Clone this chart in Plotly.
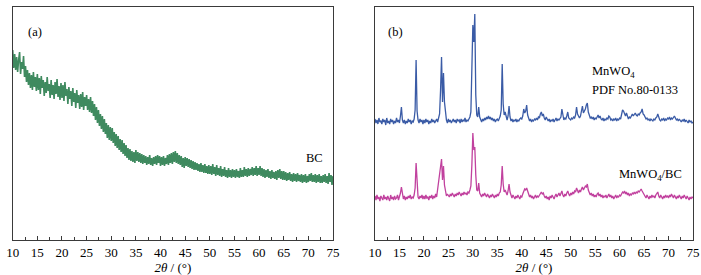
import numpy as np
import plotly.graph_objects as go

# 2theta sampling grid (degrees), 0.2 deg step from 10 to 75
two_theta = [round(10 + 0.2 * i, 1) for i in range(326)]

# Panel (a): BC, intensity (a.u.)
bc = [
    190,172,186,170,183,168,180,188,166,178,171,184,163,174,158,170,155,167,152,165,150,168,153,163,149,
    166,150,162,146,164,152,160,144,158,147,163,149,156,142,160,145,155,141,158,146,161,143,154,140,157,
    142,155,139,158,144,151,136,153,141,149,134,152,138,147,132,150,137,145,131,146,133,148,130,143,134,
    145,130,141,128,143,127,139,124,136,120,133,117,130,114,126,111,124,108,121,106,117,102,115,100,113,
    99,112,97,108,94,106,92,104,90,101,88,100,86,97,84,95,82,92,80,91,79,89,78,88,77,
    90,79,88,78,87,77,86,76,85,77,84,75,83,76,85,75,82,74,83,76,84,75,85,77,84,
    74,83,75,84,74,82,76,85,75,86,77,87,76,88,78,89,77,87,76,85,75,84,73,82,72,
    83,74,82,73,81,72,80,71,79,70,78,70,77,69,76,68,77,68,75,67,76,67,74,66,75,
    66,74,65,76,66,73,64,75,65,72,64,74,63,71,64,73,63,70,62,72,63,70,62,71,63,
    70,62,71,63,69,62,72,63,70,63,73,64,71,63,72,64,71,65,73,64,72,65,74,64,72,
    65,74,64,72,63,71,62,70,63,71,62,69,61,70,62,68,61,69,60,70,62,71,61,69,60,
    69,60,68,59,67,60,68,59,66,58,67,59,66,58,67,59,65,58,66,57,65,58,66,57,64,
    58,66,59,67,58,65,58,66,57,65,58,66,57,64,57,65,58,66,57,64,56,67,58,65,55,
    64,
]

# Panel (b): MnWO4 reference (PDF No.80-0133), intensity (a.u.)
mnwo4 = [
    121,117,120,116,122,118,119,116,121,118,120,115,122,117,119,116,121,118,120,116,119,117,122,118,120,
    117,124,133,120,117,120,116,119,117,121,118,120,116,119,118,121,130,180,129,120,117,121,118,120,116,
    120,117,121,118,120,116,119,117,121,118,120,117,119,121,118,121,126,150,183,138,167,138,124,120,117,
    121,118,120,117,119,121,118,120,117,121,119,120,117,121,118,120,119,122,118,120,119,121,123,128,165,
    215,198,226,145,125,123,133,123,120,118,121,119,122,120,123,121,124,121,123,120,122,119,121,118,120,
    121,119,122,124,130,176,136,125,128,122,120,124,134,123,119,121,118,120,119,121,118,120,119,121,122,
    121,124,131,127,129,135,125,121,119,121,118,120,119,121,120,122,120,123,122,126,128,124,126,122,120,
    123,121,119,121,118,120,119,121,118,120,122,119,121,120,122,123,131,123,120,122,121,124,128,122,121,
    120,122,121,123,122,125,133,126,123,122,124,128,134,127,129,131,135,137,128,124,122,123,121,123,120,
    122,121,123,125,122,124,121,120,122,119,121,120,122,121,124,123,120,121,119,121,120,122,119,121,120,
    122,121,125,130,129,125,124,127,123,121,123,122,124,126,124,126,127,125,124,126,125,127,128,131,126,
    125,123,121,122,120,121,119,121,120,119,121,120,122,123,126,122,120,119,121,120,122,119,121,120,122,
    121,123,120,122,121,123,124,122,120,121,119,121,120,118,120,119,121,118,120,119,117,120,118,119,117,
    118,
]

# Panel (b): MnWO4/BC composite, intensity (a.u.)
mnwo4_bc = [
    44,40,45,41,43,39,44,42,40,45,41,43,40,44,42,39,45,41,43,40,44,41,42,45,40,
    43,47,53,44,41,44,40,43,41,44,42,45,41,43,42,45,52,77,50,43,41,44,42,45,41,
    44,41,45,42,43,40,44,42,45,41,44,42,46,43,50,60,62,70,81,60,74,55,47,44,46,
    45,43,46,44,47,45,43,46,44,47,45,48,46,44,47,45,48,46,47,45,48,47,50,54,75,
    107,90,93,65,50,49,57,47,45,43,46,44,47,45,43,46,44,42,45,43,46,44,42,45,43,
    46,44,47,48,55,74,56,48,50,46,45,49,56,48,44,42,45,43,41,44,42,45,43,41,44,
    43,46,49,51,50,52,49,46,43,45,42,44,41,43,45,42,44,43,45,46,48,46,47,44,42,
    44,41,43,40,44,42,45,43,41,44,46,43,45,47,44,46,49,45,43,46,44,47,49,46,44,
    47,45,48,46,49,48,52,49,47,50,48,51,53,50,52,54,53,56,50,47,45,47,44,46,43,
    45,43,46,47,44,46,43,45,42,44,43,45,42,44,46,43,45,42,44,41,43,45,42,44,43,
    45,44,46,48,47,49,46,48,45,47,44,46,45,47,46,48,46,48,47,49,48,50,51,49,47,
    46,44,42,45,43,41,44,42,45,43,44,42,45,46,48,44,42,45,43,41,44,42,45,43,44,
    42,45,43,46,44,42,45,43,41,44,42,45,43,41,44,42,45,43,41,44,42,40,43,41,43,
    42,
]

x_ticks = [10, 15, 20, 25, 30, 35, 40, 45, 50, 55, 60, 65, 70, 75]
x_title = "<i>2θ</i> / (°)"

GREEN = "#3f8a5f"
BLUE = "#3a5ba6"
MAGENTA = "#c1419e"
FONT = "Liberation Serif"
AXCOL = "#3a3a3a"

fig = go.Figure()
fig.add_trace(go.Scatter(x=two_theta, y=bc, mode="lines",
                         line=dict(color=GREEN, width=1.6), xaxis="x", yaxis="y",
                         showlegend=False, hoverinfo="skip"))
fig.add_trace(go.Scatter(x=two_theta, y=mnwo4, mode="lines",
                         line=dict(color=BLUE, width=1.3), xaxis="x2", yaxis="y2",
                         showlegend=False, hoverinfo="skip"))
fig.add_trace(go.Scatter(x=two_theta, y=mnwo4_bc, mode="lines",
                         line=dict(color=MAGENTA, width=1.3), xaxis="x2", yaxis="y2",
                         showlegend=False, hoverinfo="skip"))

W, H = 701, 275
ydom = [35 / H, 268 / H]

def xaxis(domain, anchor):
    return dict(domain=domain, anchor=anchor, range=[10, 75],
                tickmode="array", tickvals=x_ticks, ticktext=[str(v) for v in x_ticks],
                ticks="inside", ticklen=4, tickwidth=1, tickcolor=AXCOL,
                minor=dict(ticks="inside", ticklen=2.5, tickwidth=1, tickcolor=AXCOL,
                           tickmode="array", tickvals=[12.5 + 5 * k for k in range(13)]),
                showline=True, linecolor=AXCOL, linewidth=1.2, mirror=True,
                showgrid=False, zeroline=False,
                tickfont=dict(family=FONT, size=13, color="black"),
                title=dict(text=x_title, font=dict(family=FONT, size=13, color="black"),
                           standoff=0),
                automargin=False)

def yaxis(anchor):
    return dict(domain=ydom, anchor=anchor, range=[0, 233],
                showticklabels=False, ticks="", showgrid=False, zeroline=False,
                showline=True, linecolor=AXCOL, linewidth=1.2, mirror=True,
                automargin=False)

fig.update_layout(
    width=W, height=H,
    margin=dict(l=0, r=0, t=0, b=0),
    paper_bgcolor="white", plot_bgcolor="white",
    xaxis=xaxis([12.7 / W, 333 / W], "y"),
    yaxis=yaxis("x"),
    xaxis2=xaxis([375 / W, 693 / W], "y2"),
    yaxis2=yaxis("x2"),
    font=dict(family=FONT, size=13, color="black"),
)

ann_font = dict(family=FONT, size=12.5, color="black")
fig.add_annotation(x=14.5, y=208, xref="x", yref="y", text="(a)", showarrow=False, font=ann_font)
fig.add_annotation(x=71.3, y=82, xref="x", yref="y", text="BC", showarrow=False, font=ann_font)
fig.add_annotation(x=14.1, y=208, xref="x2", yref="y2", text="(b)", showarrow=False, font=ann_font)
fig.add_annotation(x=53.9, y=168, xref="x2", yref="y2", text="MnWO<sub>4</sub>",
                   showarrow=False, font=ann_font, xanchor="left")
fig.add_annotation(x=53.9, y=150, xref="x2", yref="y2", text="PDF No.80-0133",
                   showarrow=False, font=ann_font, xanchor="left")
fig.add_annotation(x=59.5, y=65, xref="x2", yref="y2", text="MnWO<sub>4</sub>/BC",
                   showarrow=False, font=ann_font, xanchor="left")

fig.write_html("out.html", config={"displayModeBar": False},
               post_script="document.body.style.margin='0';document.body.style.padding='0';"
                           "document.body.style.overflow='hidden';")
